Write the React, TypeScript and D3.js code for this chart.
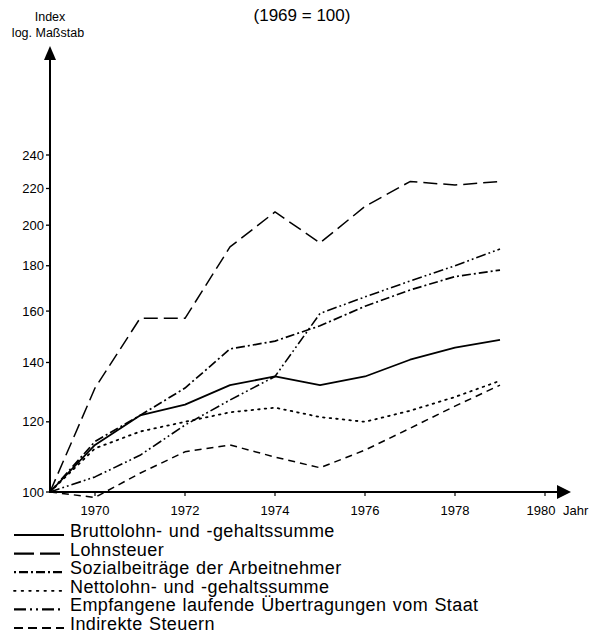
import React from "react";
import * as d3 from "d3";

const years = [1969, 1970, 1971, 1972, 1973, 1974, 1975, 1976, 1977, 1978, 1979];
const brutto = [100, 113, 122, 125.5, 132, 135, 132, 135, 141, 145.5, 148.5];
const lohnsteuer = [100, 131, 157, 157, 189, 207, 191, 210, 224, 222, 224];
const sozial = [100, 114, 122, 131, 145, 148, 154, 162, 169, 175, 178];
const netto = [100, 112, 117, 120, 123, 124.5, 121.5, 120, 123.5, 128, 133.5];
const empfangene = [100, 104, 110, 119, 127, 135, 159, 166, 173, 180, 188];
const indirekte = [100, 98.6, 105, 111, 113, 109.5, 106.5, 111.5, 118, 125, 132];

const yTicks = [100, 120, 140, 160, 180, 200, 220, 240];
const xTicks = [1970, 1972, 1974, 1976, 1978, 1980];

const seriesNames = [
  "Bruttolohn- und -gehaltssumme",
  "Lohnsteuer",
  "Sozialbeiträge der Arbeitnehmer",
  "Nettolohn- und -gehaltssumme",
  "Empfangene laufende Übertragungen vom Staat",
  "Indirekte Steuern",
];
const seriesData = [brutto, lohnsteuer, sozial, netto, empfangene, indirekte];
const dashes = ["", "14 6", "9 3 2 3", "1.6 5", "10 3 1.8 3 1.8 3", "7 5"];
const widths = [1.8, 1.5, 1.7, 1.8, 1.6, 1.5];
const caps: ("butt" | "round")[] = ["butt", "butt", "butt", "round", "butt", "butt"];
const legendDashes = ["", "20 6", "2 3 9 3", "1.6 6", "12 4 2 4 2 4", "9 5"];

export default function App() {
  const x = d3.scaleLinear().domain([1969, 1980]).range([50, 545]);
  const y = d3.scaleLog().domain([100, 240]).range([492, 155]);
  const line = d3
    .line<number>()
    .x((_, i) => x(years[i]))
    .y((d) => y(d));
  const font = "'Liberation Sans', Arial, Helvetica, sans-serif";
  return (
    <svg
      width={590}
      height={641}
      style={{ position: "absolute", left: 0, top: 0, background: "#fff" }}
      fontFamily={font}
    >
      <rect width={590} height={641} fill="#fff" />
      <text x={302} y={21} fontSize={17} textAnchor="middle" fill="#000">
        (1969 = 100)
      </text>
      <text x={50} y={21} fontSize={12.5} textAnchor="middle">
        Index
      </text>
      <text x={48} y={37} fontSize={12.5} textAnchor="middle">
        log. Maßstab
      </text>
      {/* y axis */}
      <line x1={x(1969)} x2={x(1969)} y1={y(100) + 1} y2={56} stroke="#000" strokeWidth={2} />
      <path
        d={`M${x(1969)},46 L${x(1969) - 6},60 L${x(1969) + 6},60 Z`}
        fill="#000"
      />
      {/* x axis */}
      <line x1={x(1969) - 1} x2={560} y1={y(100)} y2={y(100)} stroke="#000" strokeWidth={2} />
      <path d={`M571,${y(100)} L557,${y(100) - 7} L557,${y(100) + 7} Z`} fill="#000" />
      {yTicks.map((t) => (
        <g key={t}>
          <line x1={x(1969) - 4} x2={x(1969)} y1={y(t)} y2={y(t)} stroke="#000" strokeWidth={1.3} />
          <text x={x(1969) - 6} y={y(t) + 4.5} fontSize={13} textAnchor="end">
            {t}
          </text>
        </g>
      ))}
      {xTicks.map((t) => (
        <g key={t}>
          <line x1={x(t)} x2={x(t)} y1={y(100)} y2={y(100) + 4} stroke="#000" strokeWidth={1.2} />
          <text x={x(t) - (t === 1980 ? 4 : 0)} y={515} fontSize={13} textAnchor="middle">
            {t}
          </text>
        </g>
      ))}
      <text x={563} y={515} fontSize={13}>
        Jahr
      </text>
      {seriesData.map((s, i) => (
        <path
          key={i}
          d={line(s) || ""}
          fill="none"
          stroke="#000"
          strokeWidth={widths[i]}
          strokeDasharray={dashes[i]}
          strokeLinecap={caps[i]}
          strokeLinejoin="round"
        />
      ))}
      {seriesNames.map((n, i) => {
        const ly = 535 + i * 18.6;
        return (
          <g key={n}>
            <line
              x1={14}
              x2={64}
              y1={ly}
              y2={ly}
              stroke="#000"
              strokeWidth={i === 3 ? 1.8 : 2.2}
              strokeDasharray={legendDashes[i]}
              strokeLinecap={caps[i]}
            />
            <text
              x={70}
              y={ly + 2}
              fontSize={18}
              style={{ letterSpacing: "0.4px", wordSpacing: "1px" }}
            >
              {n}
            </text>
          </g>
        );
      })}
    </svg>
  );
}
